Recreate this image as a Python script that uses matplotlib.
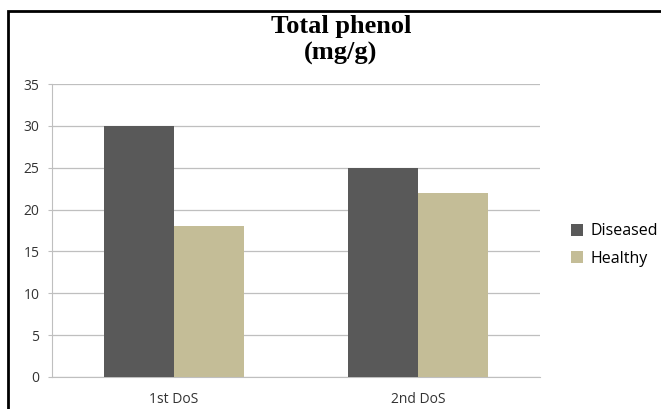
import numpy as np
import matplotlib.pyplot as plt
from matplotlib.patches import Rectangle

categories = ['1st DoS', '2nd DoS']
diseased = [30, 25]
healthy = [18, 22]
yticks = [0, 5, 10, 15, 20, 25, 30, 35]

fig = plt.figure(figsize=(6.61, 4.09), dpi=100)
W, H = 661, 409
ax = fig.add_axes([52 / W, 1 - 377 / H, (540 - 52) / W, (377 - 84) / H])

x = np.arange(len(categories))
w = 0.287
ax.bar(x - w / 2, diseased, w, color='#595959', label='Diseased', zorder=3)
ax.bar(x + w / 2, healthy, w, color='#C4BD97', label='Healthy', zorder=3)

ax.set_xlim(-0.5, 1.5)
ax.set_ylim(0, 35)
ax.set_yticks(yticks)
ax.set_xticks(x)
ax.set_xticklabels(categories)
ax.yaxis.grid(True, color='#BFBFBF', linewidth=0.9, zorder=0)
for s in ['top', 'right']:
    ax.spines[s].set_visible(False)
ax.spines['left'].set_color('#BFBFBF')
ax.spines['bottom'].set_color('#BFBFBF')
ax.tick_params(axis='y', length=3, color='#BFBFBF', labelsize=10, pad=6)
ax.tick_params(axis='x', length=0, labelsize=10, pad=11)
for t in ax.get_xticklabels() + ax.get_yticklabels():
    t.set_family('Open Sans')
    t.set_color('#333333')

fig.text(341 / W, 1 - 40 / H, 'Total phenol\n(mg/g)', ha='center', va='center',
         family='Liberation Serif', fontweight='bold', fontsize=19, linespacing=1.2)

fig.legend(loc='center left', bbox_to_anchor=(557 / W, 1 - 245 / H), frameon=False,
           prop={'family': 'Open Sans', 'size': 11.5}, handlelength=0.75, handleheight=0.75,
           handletextpad=0.45, labelspacing=0.7)

fig.patches.append(Rectangle((8 / W, -0.1), 1.2, 1 - 11 / H + 0.1, transform=fig.transFigure,
                             fill=False, edgecolor='black', linewidth=2))

plt.savefig('out.png', dpi=100)
